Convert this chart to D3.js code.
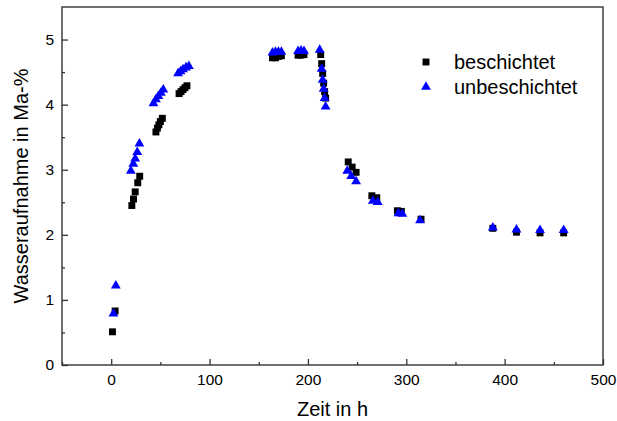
<!DOCTYPE html>
<html>
<head>
<meta charset="utf-8">
<script src="https://cdn.jsdelivr.net/npm/d3@7"></script>
<style>
	body { margin: 0; background: #fff; }
	svg text { font-family: "Liberation Sans", Arial, sans-serif; fill: #000; }
</style>
</head>
<body>
<div id="chart"></div>
<script>
let t_beschichtet = [1.3, 4,
	21, 22.7, 24.4, 27, 29,
	45.5, 47, 48.5, 50, 52,
	69, 71, 73, 75, 77,
	164, 167, 170, 173,
	190, 193, 196,
	213, 214, 215, 216, 217, 218,
	241, 245, 249, 265, 270, 291, 295, 315,
	388, 412, 436, 460];
let w_beschichtet = [0.51, 0.83,
	2.45, 2.55, 2.66, 2.8, 2.9,
	3.58, 3.64, 3.69, 3.74, 3.79,
	4.17, 4.2, 4.23, 4.26, 4.29,
	4.72, 4.72, 4.74, 4.75,
	4.76, 4.76, 4.77,
	4.77, 4.63, 4.48, 4.33, 4.2, 4.1,
	3.12, 3.04, 2.96, 2.6, 2.57, 2.37, 2.36, 2.24,
	2.1, 2.04, 2.03, 2.03];

let t_unbeschichtet = [2.3, 4.7,
	20, 22.5, 24.4, 26.5, 28.7,
	43, 45.5, 48, 50.5, 53,
	68, 70.5, 73, 76, 79,
	164, 167, 170, 173,
	190, 193, 196,
	212, 214, 215, 216, 217, 218,
	240, 244, 249, 266, 271, 292, 296, 314,
	388, 412, 436, 460];
let w_unbeschichtet = [0.79, 1.22,
	2.98, 3.09, 3.17, 3.27, 3.4,
	4.02, 4.08, 4.13, 4.18, 4.23,
	4.48, 4.51, 4.54, 4.57, 4.59,
	4.8, 4.81, 4.81, 4.81,
	4.82, 4.83, 4.82,
	4.84, 4.55, 4.38, 4.24, 4.1, 3.97,
	2.98, 2.9, 2.82, 2.52, 2.5, 2.33, 2.32, 2.22,
	2.11, 2.08, 2.07, 2.07];

let x_ticks = [0, 100, 200, 300, 400, 500];
let x_minor = [-50, 50, 150, 250, 350, 450];
let y_ticks = [0, 1, 2, 3, 4, 5];
let y_minor = [0.5, 1.5, 2.5, 3.5, 4.5];
let series_names = ["beschichtet", "unbeschichtet"];

let width = 617;
let height = 421;
let margin = { top: 7, right: 14, bottom: 56, left: 62 };

let svg = d3.select("#chart")
	.append("svg")
	.attr("width", width)
	.attr("height", height);

let x = d3.scaleLinear()
	.domain([-50, 500])
	.range([margin.left, width - margin.right]);

let y = d3.scaleLinear()
	.domain([0, 5.5])
	.range([height - margin.bottom, margin.top]);

// minor ticks
svg.append("g")
	.attr("transform", "translate(0," + (height - margin.bottom) + ")")
	.call(d3.axisBottom(x).tickValues(x_minor).tickSize(-3).tickFormat(""))
	.call(g => g.select(".domain").remove())
	.call(g => g.selectAll("line").attr("stroke", "#333").attr("stroke-width", 1.3));

svg.append("g")
	.attr("transform", "translate(" + margin.left + ",0)")
	.call(d3.axisLeft(y).tickValues(y_minor).tickSize(-3).tickFormat(""))
	.call(g => g.select(".domain").remove())
	.call(g => g.selectAll("line").attr("stroke", "#333").attr("stroke-width", 1.3));

// major ticks
svg.append("g")
	.attr("transform", "translate(0," + (height - margin.bottom) + ")")
	.call(d3.axisBottom(x).tickValues(x_ticks).tickSize(-6).tickPadding(9).tickFormat(d3.format("d")))
	.call(g => g.select(".domain").remove())
	.call(g => g.selectAll("line").attr("stroke", "#333").attr("stroke-width", 1.3))
	.call(g => g.selectAll("text").style("font-size", "15.5px"));

svg.append("g")
	.attr("transform", "translate(" + margin.left + ",0)")
	.call(d3.axisLeft(y).tickValues(y_ticks).tickSize(-6).tickPadding(8).tickFormat(d3.format("d")))
	.call(g => g.select(".domain").remove())
	.call(g => g.selectAll("line").attr("stroke", "#333").attr("stroke-width", 1.3))
	.call(g => g.selectAll("text").style("font-size", "15.5px"));

// frame
svg.append("rect")
	.attr("x", margin.left)
	.attr("y", margin.top)
	.attr("width", width - margin.left - margin.right)
	.attr("height", height - margin.top - margin.bottom)
	.attr("fill", "none")
	.attr("stroke", "#333")
	.attr("stroke-width", 1.4);

let square = d3.symbol().type(d3.symbolSquare).size(48);
let triangle = d3.symbol().type(d3.symbolTriangle).size(42);

let data_b = t_beschichtet.map((t, i) => ({ t: t, w: w_beschichtet[i] }));
let data_u = t_unbeschichtet.map((t, i) => ({ t: t, w: w_unbeschichtet[i] }));

svg.append("g")
	.selectAll("path")
	.data(data_b)
	.enter().append("path")
	.attr("d", square)
	.attr("transform", d => "translate(" + x(d.t) + "," + y(d.w) + ")")
	.attr("fill", "#000");

svg.append("g")
	.selectAll("path")
	.data(data_u)
	.enter().append("path")
	.attr("d", triangle)
	.attr("transform", d => "translate(" + x(d.t) + "," + y(d.w) + ")")
	.attr("fill", "#0000ff");

// legend
let legend = svg.append("g");
legend.append("path")
	.attr("d", square)
	.attr("transform", "translate(426,62)")
	.attr("fill", "#000");
legend.append("path")
	.attr("d", triangle)
	.attr("transform", "translate(426,87)")
	.attr("fill", "#0000ff");
legend.selectAll("text")
	.data(series_names)
	.enter().append("text")
	.attr("x", 454)
	.attr("y", (d, i) => 69 + i * 25)
	.style("font-size", "20px")
	.text(d => d);

// axis titles
svg.append("text")
	.attr("x", (margin.left + width - margin.right) / 2)
	.attr("y", 416)
	.attr("text-anchor", "middle")
	.style("font-size", "20px")
	.text("Zeit in h");

svg.append("text")
	.attr("transform", "rotate(-90)")
	.attr("x", -(margin.top + height - margin.bottom) / 2)
	.attr("y", 28)
	.attr("text-anchor", "middle")
	.style("font-size", "20px")
	.text("Wasseraufnahme in Ma-%");
</script>
</body>
</html>
